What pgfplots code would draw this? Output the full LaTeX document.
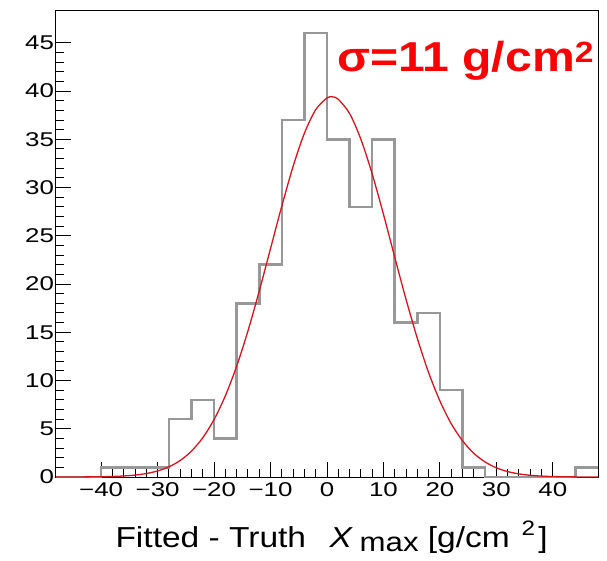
\documentclass[border=0pt]{standalone}
\usepackage{pgfplots}
\pgfplotsset{compat=1.18}
\usepackage{fontspec}
\setmainfont{Liberation Sans}
\definecolor{histgray}{RGB}{152,152,152}
\definecolor{fitred}{RGB}{215,20,30}
\begin{document}
\begin{tikzpicture}
\path (-56bp,-84bp) rectangle (551bp,477bp);
\begin{axis}[
 at={(0,0)}, anchor=south west,
 scale only axis, width=542bp, height=466bp,
 xmin=-48, xmax=48, ymin=0, ymax=48.3,
 axis line style={line width=1bp, black},
 tick pos=left, tick align=inside,
 major tick length=15bp, minor tick length=8bp,
 every tick/.style={black, line width=1bp},
 xtick={-40,-30,...,40},
 xticklabels={−40,−30,−20,−10,0,10,20,30,40},
 ytick={0,5,...,45},
 minor x tick num=4, minor y tick num=4,
 tick label style={font=\fontsize{20}{24}\selectfont, xscale=1.3},
 xticklabel style={yshift=-2bp},
 yticklabel style={xshift=2bp},
 /pgf/number format/assume math mode=true,
 xlabel={Fitted - Truth\hspace{0.7em}\textit{X}\hspace{0.2em}\raisebox{-0.3ex}{\fontsize{27}{27}\selectfont max} [g/cm\hspace{0.35em}\raisebox{0.75ex}{\fontsize{21}{21}\selectfont 2}\hspace{0.1em}]},
 xlabel style={font=\fontsize{29}{34}\selectfont, xscale=1.16, at={(axis description cs:0.5,0)}, anchor=base, yshift=-70bp, xshift=4bp},
 clip=false,
]
\addplot[const plot, draw=histgray, line width=2.6bp] coordinates {
(-48,0) (-44,0) (-40,1) (-36,1) (-32,1) (-28,6) (-24,8) (-20,4) (-16,18) (-12,22)
(-8,37) (-4,46) (0,35) (4,28) (8,35) (12,16) (16,17) (20,9) (24,1) (28,0)
(32,0) (36,0) (40,0) (44,1) (48,1)};
\addplot[smooth, draw=fitred, line width=1.3bp] coordinates {
(-48,0.0012) (-44,0.0061) (-40,0.0275) (-38,0.055) (-36,0.106) (-34,0.199)
(-32,0.359) (-30,0.626) (-28,1.053) (-26,1.712) (-24,2.686) (-22,4.07)
(-20,5.96) (-18,8.42) (-16,11.49) (-14,15.14) (-12,19.27) (-10,23.68)
(-8,28.09) (-6,32.20) (-4,35.63) (-2,38.07) (0,39.29) (1,39.40) (2,39.15)
(4,37.68) (6,35.01) (8,31.42) (10,27.23) (12,22.78) (14,18.41) (16,14.37)
(18,10.82) (20,7.88) (22,5.53) (24,3.76) (26,2.46) (28,1.56) (30,0.951)
(32,0.561) (34,0.320) (36,0.176) (38,0.0935) (40,0.048) (44,0.0113) (48,0.0023)};
\node[anchor=base west, text=red, font=\bfseries\fontsize{42}{46}\selectfont, xscale=1.15, inner sep=0pt] at (axis cs:1.8,42) {σ=11 g/cm\textsuperscript{2}};
\end{axis}
\end{tikzpicture}
\end{document}
